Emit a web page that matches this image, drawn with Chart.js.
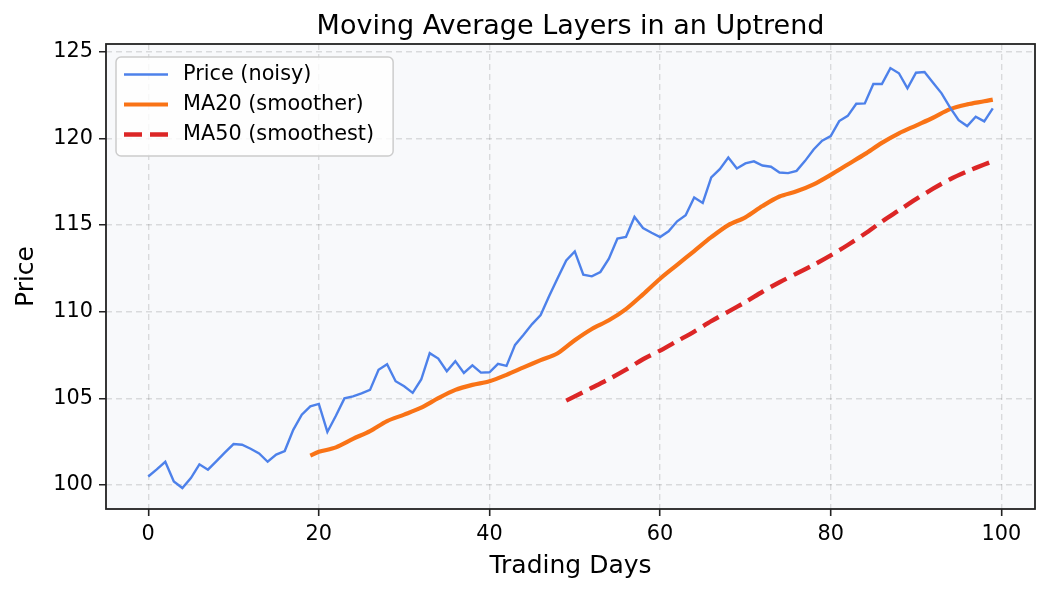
<!DOCTYPE html>
<html>
<head>
<meta charset="utf-8">
<title>Moving Average Layers in an Uptrend</title>
<script src="https://cdn.jsdelivr.net/npm/chart.js@4.4.1/dist/chart.umd.min.js"></script>
<style>
    html, body { margin: 0; padding: 0; background: #ffffff; }
    #wrap { width: 1050px; height: 594px; position: relative; }
    #maChart { display: block; }
</style>
</head>
<body>
<div id="wrap"><canvas id="maChart" width="1050" height="594"></canvas></div>
<script>
// Price, one value per trading day (0..99)
const priceValues = [
    100.48, 100.89, 101.33, 100.19, 99.81, 100.39, 101.18, 100.87, 101.37, 101.87,
    102.35, 102.31, 102.08, 101.81, 101.33, 101.74, 101.95, 103.17, 104.05, 104.53,
    104.67, 103.05, 103.99, 104.99, 105.11, 105.28, 105.48, 106.64, 106.96, 105.98,
    105.69, 105.31, 106.08, 107.60, 107.29, 106.56, 107.14, 106.46, 106.90, 106.48,
    106.50, 106.98, 106.87, 108.08, 108.66, 109.28, 109.80, 110.90, 111.94, 112.96,
    113.48, 112.13, 112.04, 112.29, 113.06, 114.22, 114.31, 115.47, 114.83, 114.56,
    114.31, 114.64, 115.22, 115.57, 116.59, 116.28, 117.75, 118.23, 118.90, 118.27,
    118.56, 118.68, 118.44, 118.37, 118.04, 118.00, 118.13, 118.71, 119.37, 119.87,
    120.14, 121.01, 121.31, 122.01, 122.03, 123.15, 123.15, 124.07, 123.77, 122.90,
    123.80, 123.84, 123.22, 122.61, 121.78, 121.06, 120.72, 121.26, 120.99, 121.74
];

// MA20
const ma20Days = [19, 20, 22, 24, 26, 28, 30, 32, 34, 36, 38, 40, 42, 44, 46, 48, 50, 52, 54, 56,
    58, 60, 62, 64, 66, 68, 70, 72, 74, 76, 78, 80, 82, 84, 86, 88, 90, 92, 94, 96, 98, 99];
const ma20Values = [101.68, 101.90, 102.16, 102.65, 103.10, 103.68, 104.05, 104.45, 105.00, 105.48,
    105.77, 105.98, 106.35, 106.78, 107.20, 107.60, 108.35, 109.00, 109.50, 110.15,
    111.00, 111.90, 112.70, 113.50, 114.30, 115.00, 115.45, 116.10, 116.65, 116.95,
    117.35, 117.90, 118.50, 119.10, 119.75, 120.30, 120.75, 121.20, 121.70, 121.97, 122.15, 122.25];

// MA50
const ma50Days = [49, 52, 54, 56, 58, 60, 62, 64, 66, 68, 70, 72, 74, 76, 78, 80, 82, 84, 86, 88,
    90, 92, 94, 96, 98, 99];
const ma50Values = [104.86, 105.60, 106.10, 106.65, 107.25, 107.75, 108.30, 108.85, 109.45, 110.00,
    110.55, 111.15, 111.70, 112.20, 112.70, 113.25, 113.85, 114.50, 115.20, 115.85,
    116.50, 117.10, 117.65, 118.10, 118.50, 118.69];

const xTicks = [0, 20, 40, 60, 80, 100];
const yTicks = [100, 105, 110, 115, 120, 125];

const seriesLabels = ['Price (noisy)', 'MA20 (smoother)', 'MA50 (smoothest)'];
const chartTitle = 'Moving Average Layers in an Uptrend';

Chart.defaults.font.family = "'DejaVu Sans', 'Liberation Sans', sans-serif";
Chart.defaults.color = '#000000';

const toPoints = (xs, ys) => xs.map((x, i) => ({ x: x, y: ys[i] }));

// Plot background, frame, title and the legend box, matplotlib style
const decorPlugin = {
    id: 'decor',
    beforeDraw(chart) {
        const { ctx, chartArea: a } = chart;
        ctx.save();
        ctx.fillStyle = '#ffffff';
        ctx.fillRect(0, 0, chart.width, chart.height);
        ctx.fillStyle = '#f8f9fb';
        ctx.fillRect(a.left, a.top, a.right - a.left, a.bottom - a.top);
        ctx.restore();
    },
    afterDraw(chart) {
        const { ctx, chartArea: a } = chart;
        ctx.save();
        // frame
        ctx.strokeStyle = '#222222';
        ctx.lineWidth = 1.8;
        ctx.strokeRect(a.left, a.top, a.right - a.left, a.bottom - a.top);

        // title
        ctx.fillStyle = '#000000';
        ctx.font = "27px 'DejaVu Sans'";
        ctx.textAlign = 'center';
        ctx.textBaseline = 'middle';
        ctx.fillText(chartTitle, (a.left + a.right) / 2, 27);

        // legend
        ctx.font = "20.8px 'DejaVu Sans'";
        const maxW = Math.max(...seriesLabels.map(t => ctx.measureText(t).width));
        const bx = a.left + 10, by = a.top + 13;
        const bw = 77 + maxW + 9, bh = 99;
        ctx.beginPath();
        ctx.roundRect(bx, by, bw, bh, 5);
        ctx.fillStyle = 'rgba(255,255,255,0.8)';
        ctx.fill();
        ctx.strokeStyle = '#cccccc';
        ctx.lineWidth = 1.5;
        ctx.stroke();
        chart.data.datasets.forEach((ds, i) => {
            const cy = by + 17.5 + i * 30;
            ctx.beginPath();
            ctx.strokeStyle = ds.borderColor;
            ctx.lineWidth = ds.borderWidth;
            ctx.setLineDash(ds.borderDash || []);
            ctx.moveTo(bx + 8, cy);
            ctx.lineTo(bx + 52, cy);
            ctx.stroke();
            ctx.setLineDash([]);
            ctx.fillStyle = '#000000';
            ctx.textAlign = 'left';
            ctx.fillText(seriesLabels[i], bx + 67, cy);
        });
        ctx.restore();
    }
};

const gridOpts = {
    color: 'rgba(0,0,0,0.12)',
    lineWidth: 1.4,
    drawTicks: true,
    tickLength: 7,
    tickColor: '#222222',
    tickWidth: 1.6,
    tickBorderDash: [1, 0]
};

const ctx = document.getElementById('maChart').getContext('2d');
new Chart(ctx, {
    type: 'line',
    data: {
        datasets: [
            {
                label: seriesLabels[0],
                data: toPoints(priceValues.map((v, i) => i), priceValues),
                borderColor: '#4d81ea',
                borderWidth: 2.4,
                pointRadius: 0,
                tension: 0,
                fill: false
            },
            {
                label: seriesLabels[1],
                data: toPoints(ma20Days, ma20Values),
                borderColor: '#f97316',
                borderWidth: 4.2,
                pointRadius: 0,
                tension: 0.3,
                fill: false
            },
            {
                label: seriesLabels[2],
                data: toPoints(ma50Days, ma50Values),
                borderColor: '#dc2626',
                borderWidth: 4.4,
                borderDash: [18, 8],
                pointRadius: 0,
                tension: 0.3,
                fill: false
            }
        ]
    },
    options: {
        responsive: false,
        animation: false,
        devicePixelRatio: 1,
        layout: { padding: { top: 44, right: 15, bottom: 0, left: 0 } },
        plugins: {
            legend: { display: false },
            title: { display: false },
            tooltip: { enabled: false }
        },
        scales: {
            x: {
                type: 'linear',
                min: -4.95,
                max: 103.95,
                afterBuildTicks: (scale) => { scale.ticks = xTicks.map(v => ({ value: v })); },
                afterFit: (scale) => { scale.height = 85; },
                ticks: { font: { size: 20.8 }, padding: 6, maxRotation: 0, color: '#000000' },
                grid: gridOpts,
                border: { display: false, dash: [6, 4] },
                title: {
                    display: true,
                    text: 'Trading Days',
                    font: { size: 25 },
                    padding: { top: 0, bottom: 13 },
                    color: '#000000'
                }
            },
            y: {
                type: 'linear',
                min: 98.6,
                max: 125.46,
                afterBuildTicks: (scale) => { scale.ticks = yTicks.map(v => ({ value: v })); },
                afterFit: (scale) => { scale.width = 106; },
                ticks: { font: { size: 20.8 }, padding: 6, color: '#000000' },
                grid: gridOpts,
                border: { display: false, dash: [6, 4] },
                title: {
                    display: true,
                    text: 'Price',
                    font: { size: 25 },
                    padding: { top: 11, bottom: 0 },
                    color: '#000000'
                }
            }
        }
    },
    plugins: [decorPlugin]
});
</script>
</body>
</html>
